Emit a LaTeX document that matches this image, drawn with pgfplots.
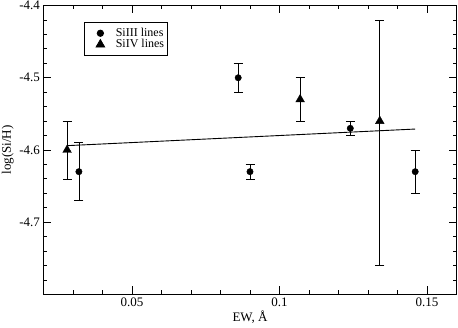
\documentclass[border=0pt]{standalone}
\usepackage{fontspec}
\setmainfont{Liberation Serif}
\usepackage{pgfplots}
\pgfplotsset{compat=1.18}
\pgfplotstableread{
x y ep em
0.032 -4.63 0.04 0.04
0.086 -4.50 0.02 0.02
0.090 -4.63 0.01 0.01
0.124 -4.57 0.01 0.01
0.146 -4.63 0.03 0.03
}\siiii
\pgfplotstableread{
x y ep em
0.028 -4.60 0.04 0.04
0.107 -4.53 0.03 0.03
0.134 -4.56 0.14 0.20
}\siiv
\begin{document}
\begin{tikzpicture}
\begin{axis}[
  scale only axis, width=413pt, height=289pt,
  xmin=0.02, xmax=0.16, ymin=-4.8, ymax=-4.4,
  xtick={0.05,0.1,0.15}, xticklabels={0.05,0.1,0.15},
  minor xtick={0.03,0.04,0.06,0.07,0.08,0.09,0.11,0.12,0.13,0.14},
  ytick={-4.7,-4.6,-4.5,-4.4}, yticklabels={-4.7,-4.6,-4.5,-4.4},
  minor ytick={-4.78,-4.76,-4.74,-4.72,-4.68,-4.66,-4.64,-4.62,-4.58,-4.56,-4.54,-4.52,-4.48,-4.46,-4.44,-4.42},
  tick align=inside, major tick length=8pt, minor tick length=4pt,
  tick style={black, line width=0.8pt},
  axis line style={line width=1pt},
  ticklabel style={font=\fontsize{13}{15}\selectfont},
  xlabel={EW, Å}, ylabel={log(Si/H)},
  label style={font=\fontsize{13}{15}\selectfont},
  xlabel style={at={(axis description cs:0.5,-0.0941)}, anchor=base},
  ylabel style={at={(axis description cs:-0.0787,0.5)}, anchor=base},
  legend image code/.code={\path (0pt,0pt) (28pt,0pt); \draw[#1] plot coordinates {(15pt,0pt)};},
  legend style={at={(axis description cs:0.098,0.94)}, anchor=north west,
    font=\fontsize{12}{13}\selectfont, draw=black, line width=0.8pt,
    inner xsep=1pt, inner ysep=3.5pt, row sep=-2.5pt, cells={anchor=west}, outer sep=0pt},
  legend cell align=left,
]
\addplot[only marks, mark=*, black, mark size=3.2pt,
  error bars/.cd, y dir=both, y explicit,
  error mark options={rotate=90, mark size=4.5pt, black, line width=0.7pt},
  error bar style={line width=0.7pt}]
  table[x=x, y=y, y error plus=ep, y error minus=em] {\siiii};
\addlegendentry{SiIII lines}
\addplot[only marks, mark=triangle*, black, mark size=5pt,
  error bars/.cd, y dir=both, y explicit,
  error mark options={rotate=90, mark size=4.5pt, black, line width=0.7pt},
  error bar style={line width=0.7pt}]
  table[x=x, y=y, y error plus=ep, y error minus=em] {\siiv};
\addlegendentry{SiIV lines}
\addplot[black, line width=0.9pt, forget plot] coordinates {(0.028,-4.594) (0.146,-4.571)};
\end{axis}
\pgfresetboundingbox
\path[use as bounding box] (-43.5pt,-33.5pt) rectangle (414.5pt,294.5pt);
\end{tikzpicture}
\end{document}
